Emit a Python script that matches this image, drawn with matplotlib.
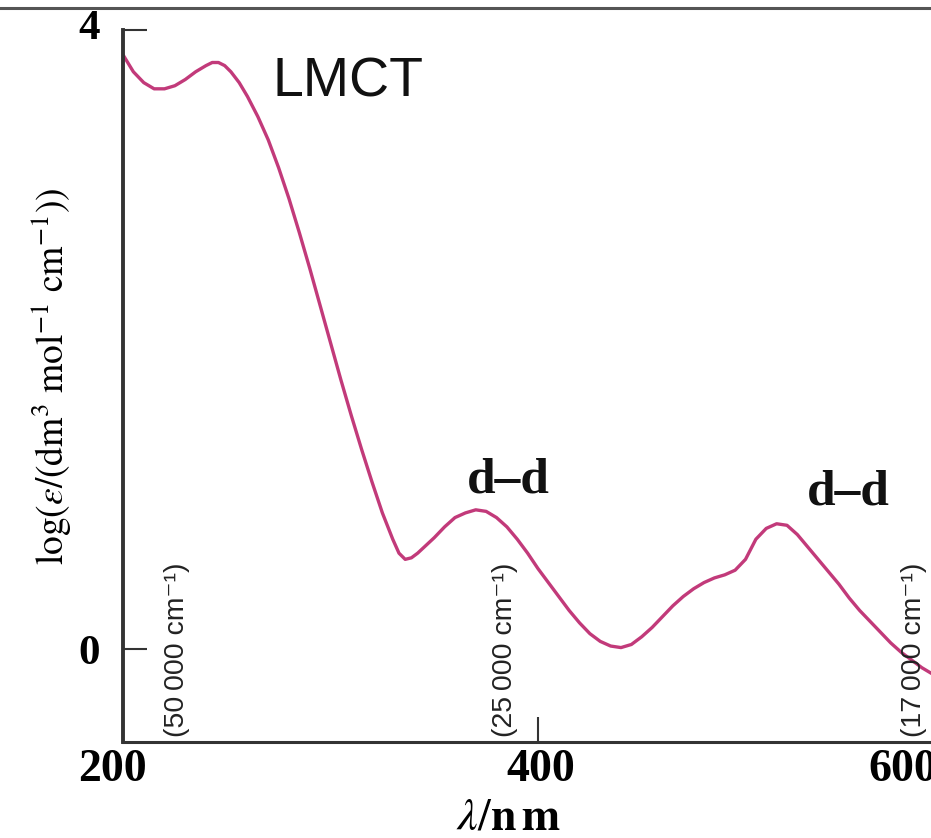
import matplotlib
matplotlib.use("Agg")
import matplotlib.pyplot as plt
from matplotlib.lines import Line2D
from matplotlib.transforms import ScaledTranslation

plt.rcParams["mathtext.fontset"] = "stix"

# Absorption spectrum: wavelength (nm) vs log(epsilon)
wavelength_nm = [200, 205, 210, 215, 220, 225, 230, 235, 240, 243, 246, 249, 252, 256,
                 260, 265, 270, 275, 280, 285, 290, 295, 300, 305, 310, 315, 320,
                 325, 330, 333, 336, 339, 342, 346, 350, 355, 360, 365, 370, 375, 380, 385,
                 390, 395, 400, 405, 410, 415, 420, 425, 430, 435, 440, 445, 450,
                 455, 460, 465, 470, 475, 480, 485, 490, 495, 500, 505, 510, 515,
                 520, 525, 530, 535, 540, 545, 550, 555, 560, 565, 570, 575, 580,
                 585, 590]
log_eps = [3.84, 3.73, 3.66, 3.62, 3.62, 3.64, 3.68, 3.73, 3.77, 3.79, 3.79, 3.77, 3.73, 3.66,
           3.57, 3.44, 3.29, 3.11, 2.91, 2.69, 2.46, 2.22, 1.98, 1.74, 1.51, 1.29, 1.08,
           0.88, 0.71, 0.62, 0.58, 0.59, 0.62, 0.67, 0.72, 0.79, 0.85, 0.88, 0.90, 0.89, 0.85, 0.79,
           0.71, 0.62, 0.52, 0.43, 0.34, 0.25, 0.17, 0.10, 0.05, 0.02, 0.01, 0.03, 0.08,
           0.14, 0.21, 0.28, 0.34, 0.39, 0.43, 0.46, 0.48, 0.51, 0.58, 0.71, 0.78, 0.81,
           0.80, 0.74, 0.66, 0.58, 0.50, 0.42, 0.33, 0.25, 0.18, 0.11, 0.04, -0.02, -0.07,
           -0.12, -0.16]

x_ticks = [200, 400, 600]
x_tick_labels = ["200", "400", "600"]
y_ticks = [0, 4]
y_tick_labels = ["0", "4"]

# Band assignments: (text, wavelength, log eps)
lmct_label = ("LMCT", 272, 3.66)
dd_labels = [("d\u2013d", 385.5, 1.09), ("d\u2013d", 549.5, 1.01)]
# Wavenumber markers: (text, wavelength)
wavenumber_marks = [("(50\u2009000 cm\u207b\u00b9)", 226),
                    ("(25\u2009000 cm\u207b\u00b9)", 384),
                    ("(17\u2009000 cm\u207b\u00b9)", 581)]

W, H, DPI = 931, 838, 100
AX_L, AX_B, AX_W, AX_H = 123, 96, 871.5, 712
fig = plt.figure(figsize=(W / DPI, H / DPI), dpi=DPI)
ax = fig.add_axes([AX_L / W, AX_B / H, AX_W / W, AX_H / H])

ax.plot(wavelength_nm, log_eps, color="#c23a7a", lw=2.4,
        solid_capstyle="round", solid_joinstyle="round")

ax.set_xlim(200, 620)
ax.set_ylim(-0.6, 4)

for side in ("top", "right"):
    ax.spines[side].set_visible(False)
ax.spines["left"].set_linewidth(2.8)
ax.spines["bottom"].set_linewidth(2.2)
ax.spines["left"].set_color("#333333")
ax.spines["bottom"].set_color("#333333")

ax.set_xticks(x_ticks)
ax.set_xticklabels(x_tick_labels, family="Liberation Serif", fontweight="bold", fontsize=33)
ax.set_yticks(y_ticks)
ax.set_yticklabels(y_tick_labels, family="Liberation Serif", fontweight="bold", fontsize=31)
ax.tick_params(axis="x", direction="in", length=18, width=1.5, color="#333333", pad=5)
ax.tick_params(axis="y", direction="in", length=17, width=1.5, color="#333333", pad=17)

# nudge individual tick labels
x_shift_px = [-11, 3, -50]
for lbl, dx in zip(ax.get_xticklabels(), x_shift_px):
    lbl.set_transform(lbl.get_transform() + ScaledTranslation(dx / DPI, 0, fig.dpi_scale_trans))
y_shift_px = [0, 5]
for lbl, dy in zip(ax.get_yticklabels(), y_shift_px):
    lbl.set_transform(lbl.get_transform() + ScaledTranslation(0, dy / DPI, fig.dpi_scale_trans))

ax.set_xlabel(r"$\lambda/\mathbf{n\,m}$", fontsize=33)
ax.xaxis.set_label_coords((508 - AX_L) / AX_W, -(794 - 742) / AX_H)

ax.set_ylabel(r"$\mathrm{log}(\varepsilon/(\mathrm{dm}^3\ \mathrm{mol}^{-1}\ \mathrm{cm}^{-1}))$",
              fontsize=27)
ax.yaxis.set_label_coords(-(AX_L - 74) / AX_W, (742 - 376) / AX_H)

# band labels
ax.text(lmct_label[1], lmct_label[2], lmct_label[0], family="Liberation Sans",
        fontsize=40, ha="left", va="center", color="#111111")
for txt, x, y in dd_labels:
    ax.text(x, y, txt, family="Liberation Serif", fontweight="bold", fontsize=37,
            ha="center", va="center", color="#111111")

# wavenumber markers along the axis
for txt, x in wavenumber_marks:
    ax.text(x, -0.57, txt, rotation=90, family=["Liberation Sans", "DejaVu Sans"],
            fontsize=20.5, ha="center", va="bottom", color="#222222")

# page rule at the top
fig.add_artist(Line2D([0, 1], [1 - 8 / H, 1 - 8 / H], transform=fig.transFigure,
                      color="#555555", lw=2.2))

fig.savefig("out.png", dpi=DPI)
